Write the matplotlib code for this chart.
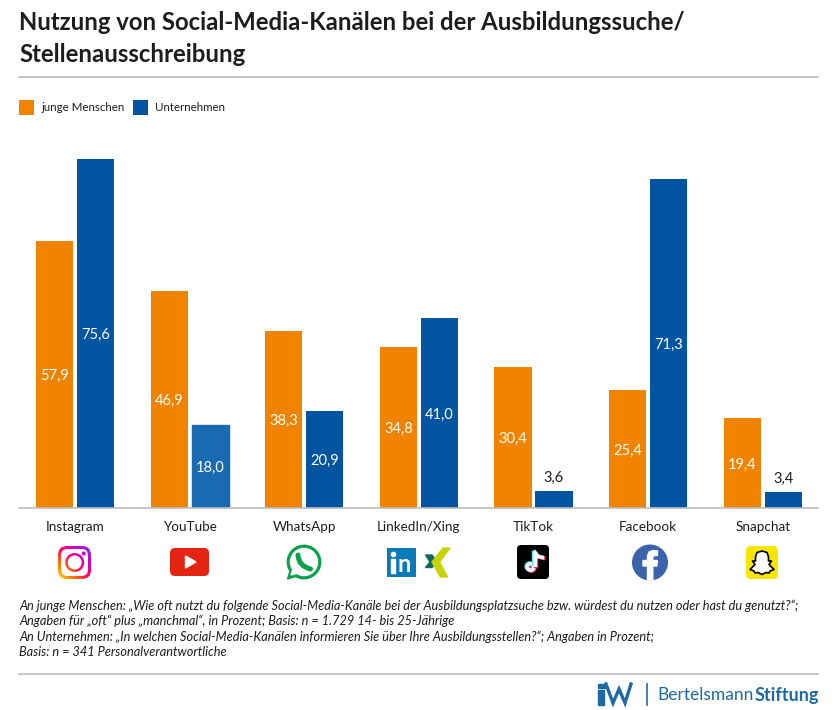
#!/usr/bin/env python3
"""Nutzung von Social-Media-Kanaelen: junge Menschen vs Unternehmen."""

import matplotlib

matplotlib.use("Agg")
import matplotlib.pyplot as plt
import numpy as np
from matplotlib.patches import Circle, FancyBboxPatch, PathPatch, Polygon
from matplotlib.path import Path

plt.rcParams["font.family"] = ["Lato", "DejaVu Sans"]

channels = ["Instagram", "YouTube", "WhatsApp", "LinkedIn/Xing", "TikTok", "Facebook", "Snapchat"]
young = [57.9, 46.9, 38.3, 34.8, 30.4, 25.4, 19.4]
firms = [75.6, 18.0, 20.9, 41.0, 3.6, 71.3, 3.4]

title_lines = [
    "Nutzung von Social-Media-Kanälen bei der Ausbildungssuche/",
    "Stellenausschreibung",
]
legend_labels = ["junge Menschen", "Unternehmen"]
note_lines = [
    "An junge Menschen: „Wie oft nutzt du folgende Social-Media-Kanäle bei der Ausbildungsplatzsuche bzw. würdest du nutzen oder hast du genutzt?“;",
    "Angaben für „oft“ plus „manchmal“, in Prozent; Basis: n = 1.729 14- bis 25-Jährige",
    "An Unternehmen: „In welchen Social-Media-Kanälen informieren Sie über Ihre Ausbildungsstellen?“; Angaben in Prozent;",
    "Basis: n = 341 Personalverantwortliche",
]

ORANGE = "#f08300"
BLUE = "#0054a0"
BLUE_LIGHT = "#1a69b3"
INK = "#1d1d1b"
RULE = "#bdbdbd"
LOGO = "#1f6aa5"
W, H = 837, 710


def rrect(ax, x0, y0, x1, y1, r, **kw):
    p = FancyBboxPatch((x0 + r, y0 + r), x1 - x0 - 2 * r, y1 - y0 - 2 * r,
                       boxstyle=f"round,pad={r},rounding_size={r}", lw=kw.pop("lw", 0), **kw)
    ax.add_patch(p)
    return p


def gradient(ax, clip, extent, zorder):
    # instagram colours, yellow bottom left to purple top right
    stops = np.array([[255, 214, 0], [255, 122, 0], [255, 0, 105], [211, 0, 197], [118, 56, 250]]) / 255
    n = 64
    xx, yy = np.meshgrid(np.linspace(0, 1, n), np.linspace(0, 1, n))
    t = np.clip((xx + (1 - yy)) / 2, 0, 1) * (len(stops) - 1)
    img = np.stack([np.interp(t, np.arange(len(stops)), stops[:, c]) for c in range(3)], axis=-1)
    im = ax.imshow(img, extent=extent, aspect="auto", zorder=zorder, origin="upper")
    im.set_clip_path(clip)


fig = plt.figure(figsize=(W / 100, H / 100), dpi=100, facecolor="white")

# bar panel, placed in pixels: axis line at y=507.5, 4.61 px per percent point
top_px = 140
ax = fig.add_axes([19 / W, 1 - 507.5 / H, (818 - 19) / W, (507.5 - top_px) / H])
x = np.arange(len(channels))
bw = 0.325
off = 0.179
ax.bar(x - off, young, bw, color=ORANGE)
bars = ax.bar(x + off, firms, bw, color=BLUE)
bars[1].set_color(BLUE_LIGHT)
ax.set_xlim(-0.489, 6.483)
ax.set_ylim(0, (507.5 - top_px) / 4.61)
for pos, vals in ((x - off, young), (x + off, firms)):
    for xp, v in zip(pos, vals):
        label = f"{v:.1f}".replace(".", ",")
        if v < 10:
            ax.text(xp, v + 1.2, label, ha="center", va="bottom", color=INK, fontsize=10.5)
        else:
            ax.text(xp, v / 2 - 0.4, label, ha="center", va="center", color="white", fontsize=10.5)
ax.set_xticks(x, channels, fontsize=9.7, color=INK)
ax.set_yticks([])
ax.tick_params(axis="x", length=0, pad=10)
for side in ("top", "left", "right"):
    ax.spines[side].set_visible(False)
ax.spines["bottom"].set_color(RULE)
ax.spines["bottom"].set_linewidth(1.2)

# overlay in pixel coordinates for texts, rules and logos
ov = fig.add_axes([0, 0, 1, 1], facecolor="none")
ov.axis("off")

for y, line in zip((23, 55), title_lines):
    ov.text(19, y, line, fontsize=17.2, fontweight="bold", color=INK, va="center", ha="left")
ov.plot([19, 818], [77, 77], color=RULE, lw=1.2)
ov.plot([19, 818], [674, 674], color=RULE, lw=1.2)

rrect(ov, 19, 100, 34, 115, 0.01, color=ORANGE)
rrect(ov, 133, 100, 148, 115, 0.01, color=BLUE)
ov.text(41, 107.5, legend_labels[0], fontsize=8.25, color=INK, va="center")
ov.text(155, 107.5, legend_labels[1], fontsize=8.25, color=INK, va="center")

for y, line in zip((606, 621, 637, 652), note_lines):
    ov.text(19, y, line, fontsize=9.15, style="italic", color=INK, va="center")

# Instagram
insta_box = (58, 91, 579, 546)
clip = rrect(ov, 58, 546, 91, 579, 9, color="none")
gradient(ov, clip, insta_box, 3)
rrect(ov, 61, 549, 88, 576, 6.5, color="white", zorder=4)
ring = Circle((74.7, 562.5), 9.5, color="none")
ov.add_patch(ring)
gradient(ov, ring, insta_box, 5)
ov.add_patch(Circle((74.7, 562.5), 6.3, color="white", zorder=6))
dot = Circle((83.7, 553.5), 2, color="none")
ov.add_patch(dot)
gradient(ov, dot, insta_box, 5)

# YouTube
rrect(ov, 170, 548, 209, 576, 5, color="#e42313")
ov.add_patch(Polygon([(185.5, 556), (196, 562), (185.5, 568)], color="white"))

# WhatsApp
green = "#0ba14b"
ov.add_patch(Polygon([(291, 568), (287.5, 579), (299, 575.5)], color=green))
ov.add_patch(Circle((304, 562), 16.7, color=green))
ov.add_patch(Polygon([(293, 569), (291, 575), (298, 573)], color="white"))
ov.add_patch(Circle((304, 562), 13.5, color="white"))
phone = Path([(298, 555), (298.5, 566), (310.5, 569)], [Path.MOVETO, Path.CURVE3, Path.CURVE3])
ov.add_patch(PathPatch(phone, fill=False, ec=green, lw=3.6, capstyle="round"))

# LinkedIn and Xing
rrect(ov, 387, 548, 416, 577, 0.5, color="#0a79b8")
ov.add_patch(Circle((393.5, 554.5), 2.1, color="white"))
ov.add_patch(Polygon([(391.5, 559), (395.5, 559), (395.5, 573), (391.5, 573)], color="white"))
ov.text(404.5, 565, "n", fontsize=17, fontweight="bold", color="white", ha="center", va="center")
ov.add_patch(Polygon([(425.5, 555), (432, 555), (437, 562), (432, 567.5), (425.5, 567.5), (430, 562)], color="#0d6b63"))
ov.add_patch(Polygon([(443, 548), (450, 548), (439.5, 562), (447.5, 577), (440.5, 577), (432, 562)], color="#c7d300"))

# TikTok, note drawn in cyan, red and white
rrect(ov, 517, 545, 549, 579, 4, color="black")
for dx, dy, col in ((-1, -0.6, "#25f4ee"), (1, 0.8, "#fe2c55"), (0, 0, "white")):
    ov.plot([535 + dx, 535 + dx], [552 + dy, 567 + dy], color=col, lw=3.2, solid_capstyle="butt")
    ov.add_patch(Circle((530.5 + dx, 567 + dy), 3.3, fc="none", ec=col, lw=2.6))
    ov.plot([535 + dx, 538 + dx, 542.5 + dx], [552.5 + dy, 556.5 + dy, 557.5 + dy], color=col, lw=2.6)

# Facebook
ov.add_patch(Circle((650, 562.5), 17.3, color="#3b64ad"))
fb = Polygon([(647.5, 580), (647.5, 566), (643, 566), (643, 560.5), (647.5, 560.5), (647.5, 556),
              (649, 552), (653, 550.5), (657.5, 551), (657.5, 555.5), (654.5, 555.5), (652.8, 557),
              (652.8, 560.5), (657.5, 560.5), (656.7, 566), (652.8, 566), (652.8, 580)], color="white")
ov.add_patch(fb)

# Snapchat
rrect(ov, 746, 546, 778, 579, 5, color="#f7e600")
ghost = [(762, 551), (757, 552.5), (755.5, 557), (755.5, 561), (752.5, 561), (755, 564.5),
         (750, 569.5), (754, 571), (755, 573), (758, 572.5), (762, 574.5), (766, 572.5),
         (769, 573), (770, 571), (774, 569.5), (769, 564.5), (771.5, 561), (768.5, 561),
         (768.5, 557), (767, 552.5)]
ov.add_patch(Polygon(ghost, fc="white", ec="black", lw=1.2, joinstyle="round"))

# footer logos
ov.add_patch(Polygon([(598.5, 690), (604, 690), (604, 705), (598.5, 705)], color=LOGO))
ov.add_patch(Polygon([(598, 684), (605, 684), (605, 687.5), (598, 687.5)], color=LOGO))
ov.plot([606, 613, 619, 625, 631], [684, 703, 689, 703, 684], color=LOGO, lw=2.4, solid_joinstyle="miter")
ov.plot([647.5, 647.5], [684, 705], color=LOGO, lw=1.2)
ov.text(657, 695, "Bertelsmann", fontsize=12.5, color=LOGO, va="center")
ov.text(755, 695, "Stiftung", fontsize=13, fontweight="bold", color=LOGO, va="center")

ov.set_xlim(0, W)
ov.set_ylim(H, 0)

fig.savefig("out.png", dpi=100)
